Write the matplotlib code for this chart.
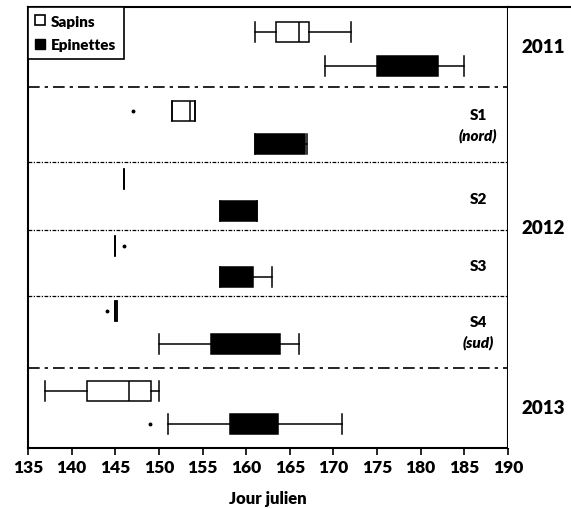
import numpy as np
import matplotlib
matplotlib.use('Agg')
import matplotlib.pyplot as plt
from matplotlib.lines import Line2D

plt.rcParams['font.family'] = ['Lato', 'DejaVu Sans']
plt.rcParams['font.weight'] = 'heavy'
GRAS = 'heavy'

# groupes (de haut en bas)
groupes = ['2011', 'S1', 'S2', 'S3', 'S4', '2013']
sous_titres = ['', 'nord', '', '', 'sud', '']

# Sapins
sap_whislo = [161.0, 151.5, 146.0, 145.0, 145.0, 137.0]
sap_q1 = [163.4, 151.5, 146.0, 145.0, 145.0, 141.8]
sap_med = [166.1, 153.6, 146.0, 145.0, 145.0, 146.6]
sap_q3 = [167.2, 154.1, 146.0, 145.0, 145.2, 149.1]
sap_whishi = [172.0, 154.1, 146.0, 145.0, 145.2, 150.0]
sap_fliers = [[], [147.0], [], [146.0], [144.0], []]

# Epinettes
epi_whislo = [169.0, 161.0, 157.0, 157.0, 150.0, 151.0]
epi_q1 = [175.0, 161.0, 157.0, 157.0, 156.0, 158.2]
epi_med = [178.5, 164.0, 159.0, 159.0, 160.0, 161.0]
epi_q3 = [182.0, 166.7, 161.2, 160.8, 163.9, 163.7]
epi_whishi = [185.0, 167.0, 161.2, 163.0, 166.0, 171.0]
epi_fliers = [[], [], [], [], [], [149.0]]

# mise en page verticale (hauteur des bandes, position des boites)
hauteurs = np.array([80, 75, 68, 66, 72, 80])
bornes = np.concatenate([[0], np.cumsum(hauteurs)])
pos_sap = bornes[:-1] + np.array([25, 24, 17, 16, 15, 23])
pos_epi = bornes[:-1] + np.array([59, 57, 49, 47, 48, 56])


def stats(lo, q1, med, q3, hi, fl):
    return [dict(whislo=a, q1=b, med=c, q3=d, whishi=e, fliers=f)
            for a, b, c, d, e, f in zip(lo, q1, med, q3, hi, fl)]


W, H = 571, 510
fig = plt.figure(figsize=(W / 100, H / 100), dpi=100)
ax = fig.add_axes([28 / W, 61 / H, 480 / W, 441 / H])
ax_an = fig.add_axes([508 / W, 61 / H, 1 - 508 / W, 441 / H])

lw = 1.1
fl_props = dict(marker='o', markersize=1.8, markerfacecolor='black',
                markeredgecolor='black', linestyle='none')
ax.bxp(stats(sap_whislo, sap_q1, sap_med, sap_q3, sap_whishi, sap_fliers),
       positions=pos_sap, widths=20, capwidths=20, orientation='horizontal',
       patch_artist=True, manage_ticks=False,
       boxprops=dict(facecolor='white', edgecolor='black', linewidth=lw),
       medianprops=dict(color='black', linewidth=lw),
       whiskerprops=dict(color='black', linewidth=lw),
       capprops=dict(color='black', linewidth=lw), flierprops=fl_props)
ax.bxp(stats(epi_whislo, epi_q1, epi_med, epi_q3, epi_whishi, epi_fliers),
       positions=pos_epi, widths=20, capwidths=20, orientation='horizontal',
       patch_artist=True, manage_ticks=False,
       boxprops=dict(facecolor='black', edgecolor='black', linewidth=lw),
       medianprops=dict(color='black', linewidth=lw),
       whiskerprops=dict(color='black', linewidth=lw),
       capprops=dict(color='black', linewidth=lw), flierprops=fl_props)

ax.set_xlim(135, 190)
ax.set_ylim(bornes[-1], 0)
ax.set_xticks(np.arange(135, 191, 5))
ax.set_yticks([])
ax.tick_params(axis='x', direction='out', length=5, width=1.2, labelsize=12.5, pad=3)
for s in ax.spines.values():
    s.set_linewidth(1.5)
ax.set_xlabel('Jour julien', fontsize=12, fontweight=GRAS, labelpad=11)

# separateurs
for i in range(1, len(groupes)):
    y = bornes[i]
    if groupes[i] == '2013' or groupes[i] == 'S1':
        ax.axhline(y, xmin=0, xmax=1 + 63 / 480, color='black', lw=1.2,
                   ls=(0, (7, 3, 2, 3)), clip_on=False)
    else:
        ax.axhline(y, color='black', lw=0.9, ls=(0, (3, 1.2, 1, 1.2)))

# noms des sites
for i, g in enumerate(groupes):
    if g.startswith('S'):
        mid = (bornes[i] + bornes[i + 1]) / 2
        if sous_titres[i]:
            ax.text(186.6, mid - 10, g, ha='center', va='center', fontsize=11, fontweight=GRAS)
            ax.text(186.6, mid + 10, '(' + sous_titres[i] + ')', ha='center', va='center',
                    fontsize=11, fontweight=GRAS, style='italic')
        else:
            ax.text(186.6, mid + 3, g, ha='center', va='center', fontsize=11, fontweight=GRAS)

# colonne des annees
ax_an.set_xlim(0, 1)
ax_an.set_ylim(bornes[-1], 0)
ax_an.set_xticks([])
ax_an.set_yticks([])
ax_an.spines['right'].set_visible(False)
ax_an.spines['bottom'].set_visible(False)
ax_an.spines['left'].set_visible(False)
ax_an.spines['top'].set_linewidth(1.5)
annees = [('2011', bornes[0], bornes[1]), ('2012', bornes[1], bornes[5]), ('2013', bornes[5], bornes[6])]
for a, y0, y1 in annees:
    ax_an.text(0.56, (y0 + y1) / 2, a, ha='center', va='center', fontsize=13.5, fontweight=GRAS)

# legende
handles = [Line2D([], [], marker='s', ls='none', markersize=7, markerfacecolor='white',
                  markeredgecolor='black', markeredgewidth=1.2),
           Line2D([], [], marker='s', ls='none', markersize=7, markerfacecolor='black',
                  markeredgecolor='black')]
leg = ax.legend(handles, ['Sapins', 'Epinettes'], loc='upper left', borderaxespad=0,
                prop=dict(weight=GRAS, size=11), handlelength=0.6, handletextpad=0.4,
                labelspacing=0.7, borderpad=0.5, fancybox=False, framealpha=1,
                edgecolor='black')
leg.get_frame().set_linewidth(1.2)

fig.savefig('out.png', dpi=100)
